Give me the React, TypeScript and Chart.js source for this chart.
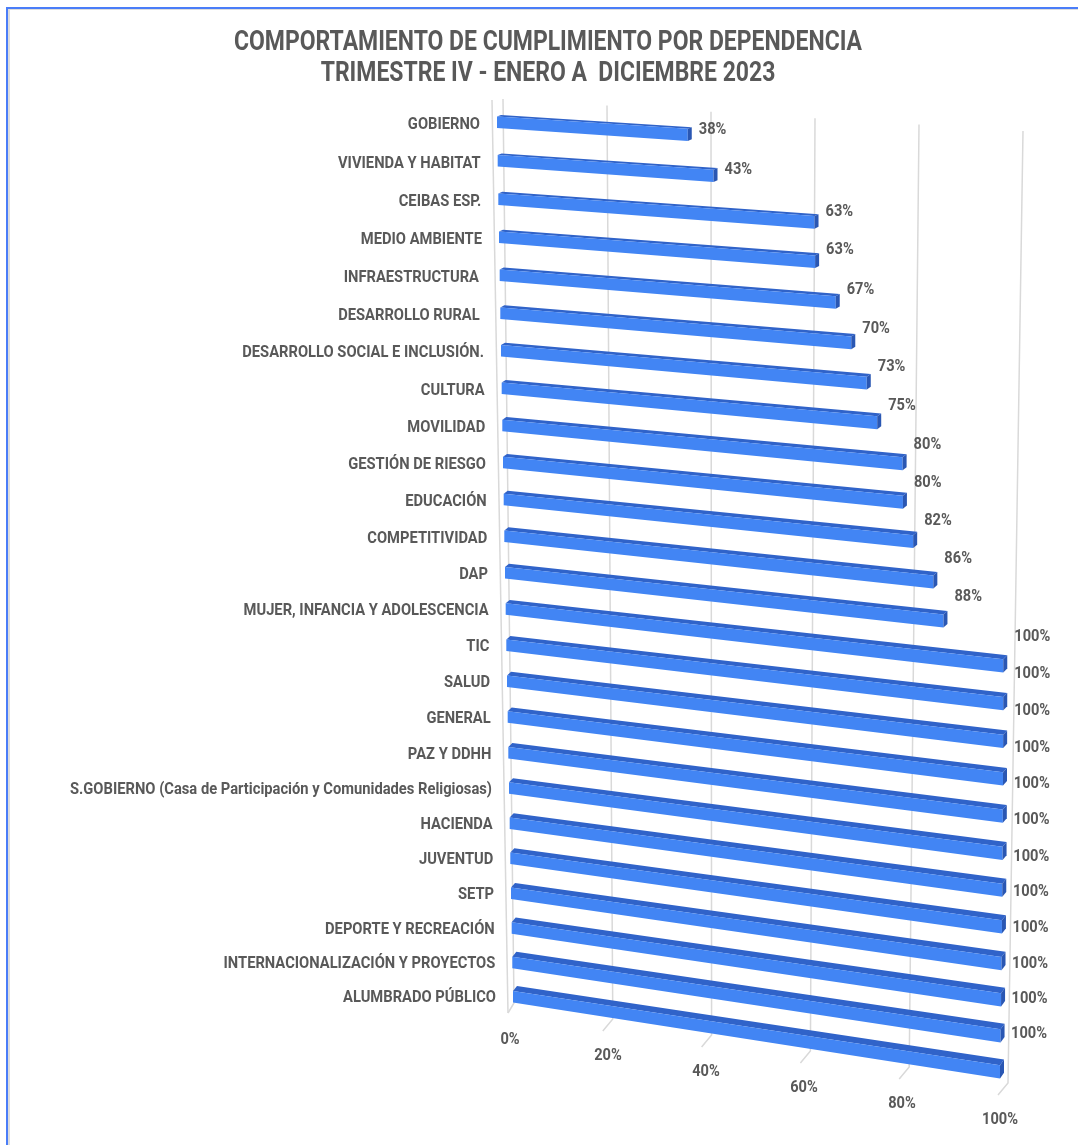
import React, { useEffect, useRef } from "react";
import { Chart, registerables } from "chart.js";

Chart.register(...registerables);

const categories = [
  "GOBIERNO",
  "VIVIENDA Y HABITAT",
  "CEIBAS ESP.",
  "MEDIO AMBIENTE",
  "INFRAESTRUCTURA ",
  "DESARROLLO RURAL ",
  "DESARROLLO SOCIAL E INCLUSIÓN.",
  "CULTURA",
  "MOVILIDAD",
  "GESTIÓN DE RIESGO",
  "EDUCACIÓN",
  "COMPETITIVIDAD",
  "DAP",
  "MUJER, INFANCIA Y ADOLESCENCIA",
  "TIC",
  "SALUD",
  "GENERAL",
  "PAZ Y DDHH",
  "S.GOBIERNO (Casa de Participación y Comunidades Religiosas)",
  "HACIENDA",
  "JUVENTUD",
  "SETP",
  "DEPORTE Y RECREACIÓN",
  "INTERNACIONALIZACIÓN Y PROYECTOS",
  "ALUMBRADO PÚBLICO",
];

const values = [
  38, 43, 63, 63, 67, 70, 73, 75, 80, 80, 82, 86, 88,
  100, 100, 100, 100, 100, 100, 100, 100, 100, 100, 100, 100,
];

const xTicks = [0, 20, 40, 60, 80, 100];

const titleLines = [
  "COMPORTAMIENTO DE CUMPLIMIENTO POR DEPENDENCIA",
  "TRIMESTRE IV - ENERO A  DICIEMBRE 2023",
];

const TEXT = "#595959";
const FRONT = "#4285F4";
const TOPF = "#3063C9";
const CAP = "#2A57B3";
const GRID = "#D9D9D9";
const FONT = "Roboto, 'Liberation Sans', sans-serif";

// perspective helpers (w: 0..1 row fraction from scale, u: 0..1 value fraction from scale)
const rowTop = (w: number) => 115 + 924 * w - 53 * w * w;
const rowLeft = (w: number) => 497 + 16 * w;
const fullW = (w: number) => 502 - 15 * w * w;
const slopeOf = (w: number) => 0.064 + 0.087 * w;
const P = (u: number, w: number, dy: number): [number, number] => {
  const W = fullW(w);
  return [rowLeft(w) + u * W, rowTop(w) + slopeOf(w) * u * W + dy * (1 + 0.15 * u)];
};
const wallTop = (u: number): [number, number] => [503 + 520 * u, 99 + 32 * u];
const wallBot = (u: number): [number, number] => [514 + 494 * u, 1003 + 80 * u];

function poly(ctx: CanvasRenderingContext2D, pts: [number, number][], color: string) {
  ctx.beginPath();
  ctx.moveTo(pts[0][0], pts[0][1]);
  for (let i = 1; i < pts.length; i++) ctx.lineTo(pts[i][0], pts[i][1]);
  ctx.closePath();
  ctx.fillStyle = color;
  ctx.fill();
}

function text(
  ctx: CanvasRenderingContext2D,
  s: string,
  x: number,
  y: number,
  align: CanvasTextAlign,
  sx: number
) {
  ctx.save();
  ctx.translate(x, y);
  ctx.scale(sx, 1);
  ctx.textAlign = align;
  ctx.textBaseline = "middle";
  ctx.fillText(s, 0, 0);
  ctx.restore();
}

const perspPlugin = {
  id: "persp3d",
  afterDraw(chart: any) {
    const ctx: CanvasRenderingContext2D = chart.ctx;
    const xs = chart.scales.x;
    const ys = chart.scales.y;
    const n = categories.length;
    const y0 = ys.getPixelForValue(0);
    const yN = ys.getPixelForValue(n - 1);
    const x0 = xs.getPixelForValue(0);
    const x1 = xs.getPixelForValue(100);
    const uOf = (px: number) => (px - x0) / (x1 - x0);
    const wOf = (py: number) => (py - y0) / (yN - y0);

    ctx.save();
    // frame
    ctx.fillStyle = "#DDDDDD";
    ctx.fillRect(8, 9, 2, chart.height);
    ctx.fillRect(8, 9, chart.width, 1);
    ctx.fillStyle = "#4A7DF8";
    ctx.fillRect(6, 7, 2, chart.height);
    ctx.fillRect(6, 7, chart.width, 2);

    // gridlines
    ctx.strokeStyle = GRID;
    ctx.lineWidth = 1.5;
    ctx.beginPath();
    ctx.moveTo(492, 100);
    ctx.lineTo(508, 1013);
    ctx.stroke();
    xTicks.forEach((v) => {
      const u = uOf(xs.getPixelForValue(v));
      const t = wallTop(u);
      const b = wallBot(u);
      ctx.beginPath();
      ctx.moveTo(t[0], t[1]);
      ctx.lineTo(b[0], b[1]);
      if (v === 0) ctx.lineTo(508, 1013);
      else ctx.lineTo(b[0] - 10, b[1] + 12);
      ctx.stroke();
    });

    // bars
    const meta = chart.getDatasetMeta(0);
    const ends: { x: number; w: number; v: number }[] = [];
    meta.data.forEach((el: any, i: number) => {
      const p = el.getProps(["x", "y", "base"], true);
      const u = uOf(p.x) - uOf(p.base);
      const w = wOf(p.y);
      const d = 1.5 + 3.5 * w;
      const hf = 11.5;
      const cx = 4;
      const F1 = P(0, w, d);
      const F2 = P(u, w, d);
      const F3 = P(u, w, d + hf);
      const F4 = P(0, w, d + hf);
      const B1 = P(0, w, 0);
      const B2 = P(u, w, 0);
      const B3 = P(u, w, hf);
      B1[0] += cx;
      B2[0] += cx;
      B3[0] += cx;
      poly(ctx, [F1, F2, B2, B1], TOPF);
      poly(ctx, [F1, F2, F3, F4], FRONT);
      poly(ctx, [F2, B2, B3, F3], CAP);
      ends.push({ x: B2[0], w, v: values[i] });
    });

    ctx.fillStyle = TEXT;
    // category labels
    ctx.font = `bold 17px ${FONT}`;
    const longest = categories.reduce((a, b) => (b.length > a.length ? b : a));
    const sxCat = 422 / ctx.measureText(longest).width;
    categories.forEach((c, i) => {
      const w = wOf(ys.getPixelForValue(i));
      text(ctx, c, rowLeft(w) - 17, rowTop(w) + 10 + 2 * w, "right", sxCat);
    });

    // value labels
    const sxVal = 36 / ctx.measureText("100%").width;
    ends.forEach((e) => {
      const y = rowTop(e.w) + 9.4 + 0.147 * e.v + 0.239 * e.w * e.v;
      text(ctx, `${e.v}%`, e.x + 7, y, "left", sxVal);
    });

    // x tick labels
    xTicks.forEach((v) => {
      const u = uOf(xs.getPixelForValue(v));
      text(ctx, `${v}%`, 510 + 490 * u, 1040 + 80 * u, "center", sxVal);
    });

    // title
    ctx.font = `bold 28px ${FONT}`;
    const sxT = 628 / ctx.measureText(titleLines[0]).width;
    text(ctx, titleLines[0], 548, 43, "center", sxT);
    text(ctx, titleLines[1], 548, 74, "center", sxT);
    ctx.restore();
  },
};

export default function App() {
  const ref = useRef<HTMLCanvasElement>(null);
  useEffect(() => {
    const canvas = ref.current!;
    const chart = new Chart(canvas, {
      type: "bar",
      data: {
        labels: categories,
        datasets: [
          {
            data: values,
            backgroundColor: "rgba(0,0,0,0)",
            borderWidth: 0,
          },
        ],
      },
      options: {
        indexAxis: "y",
        responsive: false,
        animation: false,
        devicePixelRatio: 1,
        events: [],
        layout: { padding: 0 },
        scales: {
          x: { min: 0, max: 100, display: false },
          y: { display: false },
        },
        plugins: {
          legend: { display: false },
          title: { display: false },
          tooltip: { enabled: false },
        },
      },
      plugins: [perspPlugin],
    } as any);
    return () => chart.destroy();
  }, []);
  return (
    <div
      style={{
        position: "absolute",
        left: 0,
        top: 0,
        width: 1078,
        height: 1145,
        background: "#ffffff",
        overflow: "hidden",
      }}
    >
      <canvas ref={ref} width={1078} height={1145} style={{ display: "block" }} />
    </div>
  );
}
